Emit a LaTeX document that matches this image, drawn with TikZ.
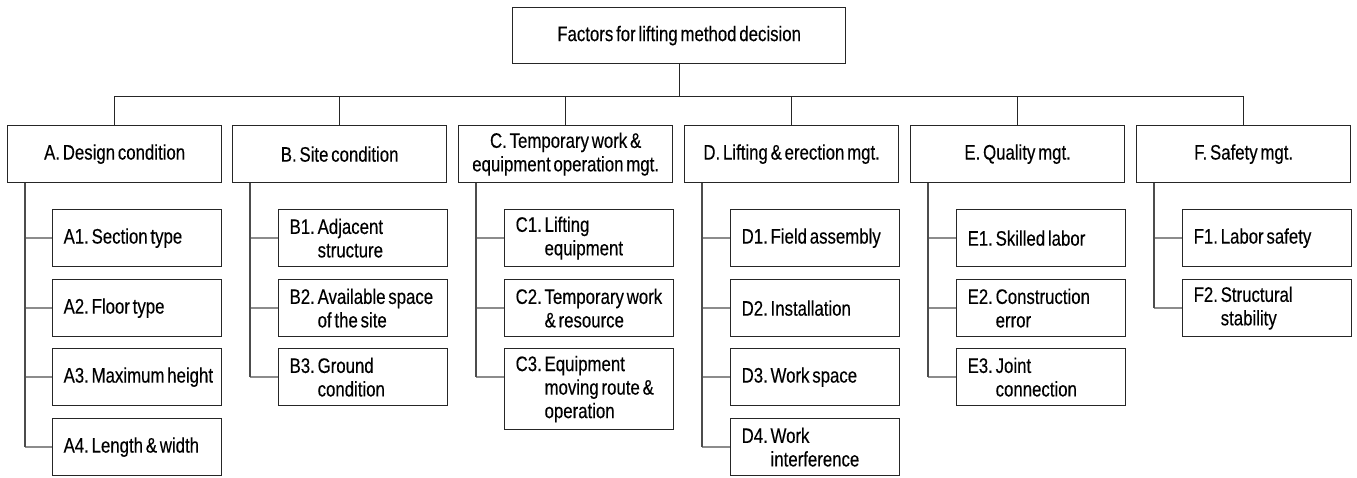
\documentclass[tikz,border=0pt]{standalone}
\usepackage{fontspec}
\setmainfont[FakeStretch=0.8,FakeBold=0.3,WordSpace=0.6]{Liberation Sans}
% left margin of a sub-factor line (with the font's own word space),
% and the hanging indent of its later lines
\newcommand\lm{\spaceskip=\fontdimen2\font\relax\hspace*{7pt}}
\newcommand\hang[1]{\hspace*{7pt}\phantom{#1}\ }
\begin{document}
\frenchspacing
\begin{tikzpicture}[x=1pt,y=-1pt,
  box/.style={draw=black!85, line width=1.3pt, inner sep=0pt, anchor=north west,
    font=\fontsize{21}{23.5}\selectfont\frenchspacing},
  head/.style={box, minimum width=214pt, minimum height=57pt, align=center},
  leaf/.style={box, minimum height=57pt, text width=161pt, inner xsep=4pt, align=left},
  link/.style={draw=black!85, line width=1.2pt},
  trunk/.style={draw=black!70, line width=1.5pt},
  twig/.style={draw=black!45, line width=2pt},
]
\useasboundingbox (0,0) rectangle (1357,477);

% root
\node[head, minimum width=333pt, minimum height=56pt] (top) at (512,7)
  {Factors for lifting method decision};

% main factors
\node[head] (pA) at (7,125)    {A. Design condition};
\node[head] (pB) at (232,125)  {B. Site condition};
\node[head] (pC) at (458,125)  {C. Temporary work \&\\equipment operation mgt.};
\node[head] (pD) at (684,125)  {D. Lifting \& erection mgt.};
\node[head] (pE) at (910,125)  {E. Quality mgt.};
\node[head] (pF) at (1136,125) {F. Safety mgt.};

% sub factors
\node[leaf] (a1) at (52,209) {\lm A1. Section type};
\node[leaf] (a2) at (52,279) {\lm A2. Floor type};
\node[leaf] (a3) at (52,348) {\lm A3. Maximum height};
\node[leaf] (a4) at (52,418) {\lm A4. Length \& width};

\node[leaf] (b1) at (278,209) {\lm B1. Adjacent\\\hang{B1.}structure};
\node[leaf] (b2) at (278,279) {\lm B2. Available space\\\hang{B2.}of the site};
\node[leaf] (b3) at (278,348) {\lm B3. Ground\\\hang{B3.}condition};

\node[leaf] (c1) at (504,209) {\lm C1. Lifting\\\hang{C1.}equipment};
\node[leaf] (c2) at (504,279) {\lm C2. Temporary work\\\hang{C2.}\& resource};
\node[leaf, minimum height=81pt] (c3) at (504,348)
  {\lm C3. Equipment\\\hang{C3.}moving route \&\\\hang{C3.}operation};

\node[leaf] (d1) at (730,209) {\lm D1. Field assembly};
\node[leaf] (d2) at (730,279) {\lm D2. Installation};
\node[leaf] (d3) at (730,348) {\lm D3. Work space};
\node[leaf] (d4) at (730,418) {\lm D4. Work\\\hang{D4.}interference};

\node[leaf] (e1) at (956,209) {\lm E1. Skilled labor};
\node[leaf] (e2) at (956,279) {\lm E2. Construction\\\hang{E2.}error};
\node[leaf] (e3) at (956,348) {\lm E3. Joint\\\hang{E3.}connection};

\node[leaf] (f1) at (1182,209) {\lm F1. Labor safety};
\node[leaf] (f2) at (1182,279) {\lm F2. Structural\\\hang{F2.}stability};

% root to main factors
\draw[link] (top.south) -- ++(0,32) coordinate (bus);
\draw[link] (bus -| pA.north) -- (bus -| pF.north);
\foreach \p in {pA,pB,pC,pD,pE,pF}
  \draw[link] (bus -| \p.north) -- (\p.north);

% attachment points on the sub-factor boxes
\foreach \c in {a1,a2,a3,a4,b1,b2,b3,c1,c2,c3,d1,d2,d3,d4,e1,e2,e3,f1,f2}
  \coordinate (\c c) at ([yshift=-28.5pt]\c.north west);

% main factors to sub factors
\foreach \p/\k/\last/\kids in {pA/tA/a4/{a1,a2,a3,a4}, pB/tB/b3/{b1,b2,b3},
    pC/tC/c3/{c1,c2,c3}, pD/tD/d4/{d1,d2,d3,d4}, pE/tE/e3/{e1,e2,e3}, pF/tF/f2/{f1,f2}} {
  \coordinate (\k) at ([xshift=18pt]\p.south west);
  \foreach \c in \kids
    \draw[twig] (\k |- \c c) -- (\c c);
  \draw[trunk] (\k) -- (\k |- \last c);
}
\end{tikzpicture}
\end{document}
